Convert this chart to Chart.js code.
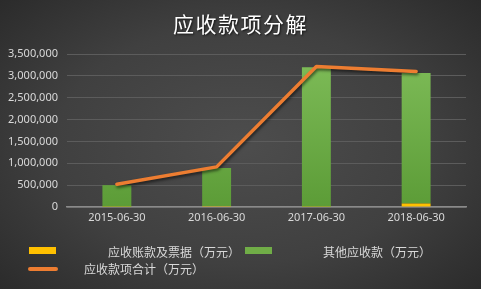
<!DOCTYPE html>
<html><head><meta charset="utf-8">
<script src="https://cdn.jsdelivr.net/npm/chart.js@4.4.1/dist/chart.umd.min.js"></script>
<style>
html,body{margin:0;padding:0;}
body{width:481px;height:289px;overflow:hidden;position:relative;
background:radial-gradient(ellipse 70% 75% at 50% 50%, #4d4d4d 0%, #404040 55%, #2a2a2a 100%);
font-family:"Noto Sans CJK SC","Noto Sans",sans-serif;}
#wrap{position:absolute;left:0;top:0;width:481px;height:289px;}
#title{position:absolute;left:0;top:9px;width:481px;text-align:center;color:#fff;font-size:21px;letter-spacing:1.5px;line-height:28px;text-shadow:1px 1px 2px rgba(0,0,0,0.7);}
.lg{position:absolute;color:#d9d9d9;font-size:12px;line-height:14px;white-space:nowrap;}
.box{position:absolute;height:7px;width:27px;}
</style></head><body>
<div id="wrap"><canvas id="c" width="481" height="289"></canvas></div>
<div id="title">应收款项分解</div>
<div class="box" style="left:29px;top:247px;background:#ffc000;"></div>
<div class="lg" style="left:108px;top:245px;">应收账款及票据（万元）</div>
<div class="box" style="left:245px;top:247px;background:#70ad47;"></div>
<div class="lg" style="left:323px;top:245px;">其他应收款（万元）</div>
<div style="position:absolute;left:28px;top:267px;width:30px;height:4px;border-radius:2px;background:#ed7d31;"></div>
<div class="lg" style="left:84px;top:262px;">应收款项合计（万元）</div>
<script>
const categories = ['2015-06-30','2016-06-30','2017-06-30','2018-06-30'];
const receivablesNotes = [5000, 20000, 5000, 80000];
const otherReceivables = [495000, 870000, 3190000, 2985000];
const totalReceivables = [520000, 918000, 3213000, 3100000];
const yMax = 3500000;
const yStep = 500000;

const ctx = document.getElementById('c').getContext('2d');
const greenGrad = ctx.createLinearGradient(0, 60, 0, 207);
greenGrad.addColorStop(0, '#7dbb57');
greenGrad.addColorStop(1, '#5c9c37');

const shadowPlugin = {
  id:'lineShadow',
  beforeDatasetDraw(chart, args){
    if (chart.data.datasets[args.index].type === 'line') {
      const c = chart.ctx; c.save();
      c.shadowColor='rgba(0,0,0,0.55)'; c.shadowBlur=3; c.shadowOffsetX=1; c.shadowOffsetY=2;
    }
  },
  afterDatasetDraw(chart, args){
    if (chart.data.datasets[args.index].type === 'line') chart.ctx.restore();
  }
};

new Chart(ctx, {
  data: {
    labels: categories,
    datasets: [
      {type:'line', label:'应收款项合计（万元）', data: totalReceivables, borderColor:'#ed7d31', borderWidth:3.5,
       pointRadius:0, tension:0, order:0, stack:'total', borderCapStyle:'round', borderJoinStyle:'round'},
      {type:'bar', label:'应收账款及票据（万元）', data: receivablesNotes, backgroundColor:'#ffc000', order:1, stack:'bars',
       barPercentage:0.29, categoryPercentage:1},
      {type:'bar', label:'其他应收款（万元）', data: otherReceivables, backgroundColor:greenGrad, order:1, stack:'bars',
       barPercentage:0.29, categoryPercentage:1}
    ]
  },
  options: {
    responsive:false, animation:false,
    layout:{padding:{left:0,right:15,top:54,bottom:62}},
    plugins:{legend:{display:false}, title:{display:false}, tooltip:{enabled:false}},
    scales:{
      x:{stacked:true, grid:{display:false, drawTicks:false},
         border:{display:true, color:'#8a8a8a', width:1.5},
         ticks:{color:'#d9d9d9', font:{family:'"Noto Sans","DejaVu Sans",sans-serif', size:11}, padding:4, maxRotation:0},
         afterFit(s){ s.height = 20; }},
      y:{stacked:true, min:0, max:yMax,
         grid:{color:'#5c5c5c', lineWidth:1, drawTicks:false},
         border:{display:false},
         ticks:{stepSize:yStep, color:'#d9d9d9', padding:9, font:{family:'"Noto Sans","DejaVu Sans",sans-serif', size:11},
                callback:v=>Number(v).toLocaleString('en-US')},
         afterFit(s){ s.width = 67; }}
    }
  },
  plugins:[shadowPlugin]
});
</script>
</body></html>
